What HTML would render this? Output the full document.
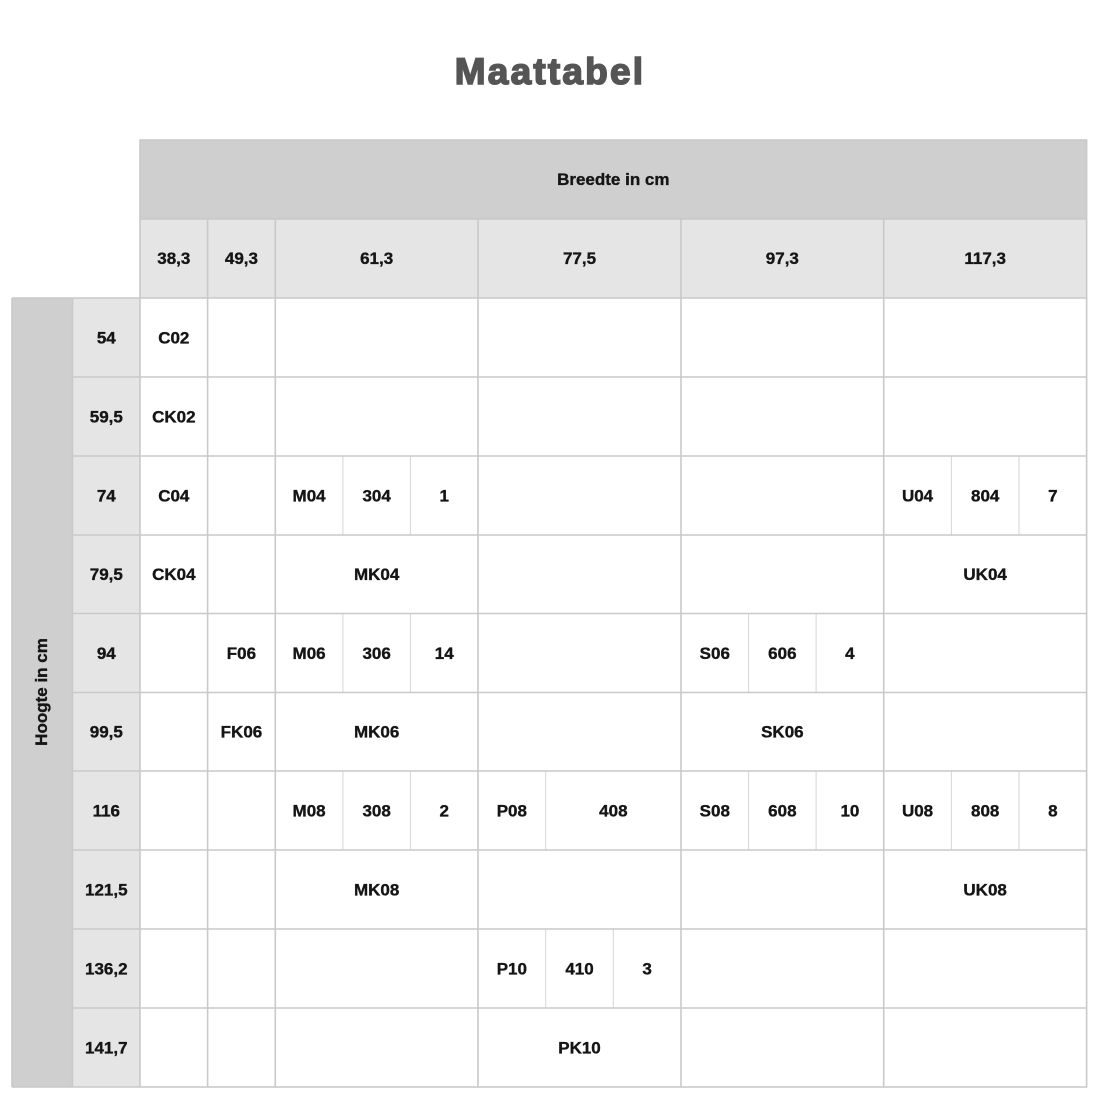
<!DOCTYPE html>
<html><head><meta charset="utf-8"><style>
html,body{margin:0;padding:0;background:#fff;width:1100px;height:1100px;overflow:hidden}
svg{display:block}
text{font-family:"Liberation Sans",sans-serif;font-weight:bold;font-size:17px;fill:#151515;stroke:#151515;stroke-width:0.35;text-anchor:middle}
</style></head><body>
<svg width="1100" height="1100" viewBox="0 0 1100 1100" xmlns="http://www.w3.org/2000/svg">
<text x="550" y="84" style="font-size:37px;fill:#555;stroke:#555;stroke-width:1.6;letter-spacing:2.2px">Maattabel</text>
<!-- backgrounds -->
<rect x="140" y="140" width="946.6" height="79" fill="#d0cfd0"/>
<rect x="140" y="219" width="946.6" height="79" fill="#e6e5e6"/>
<rect x="12" y="298" width="60.5" height="789" fill="#d0cfd0"/>
<rect x="72.5" y="298" width="67.5" height="789" fill="#e6e5e6"/>
<!-- light sub lines -->
<g stroke="#d6d6d6" stroke-width="1" fill="none">
<line x1="342.9" y1="456" x2="342.9" y2="535"/><line x1="410.4" y1="456" x2="410.4" y2="535"/>
<line x1="951.4" y1="456" x2="951.4" y2="535"/><line x1="1019" y1="456" x2="1019" y2="535"/>
<line x1="342.9" y1="613.5" x2="342.9" y2="692.5"/><line x1="410.4" y1="613.5" x2="410.4" y2="692.5"/>
<line x1="748.6" y1="613.5" x2="748.6" y2="692.5"/><line x1="816.1" y1="613.5" x2="816.1" y2="692.5"/>
<line x1="342.9" y1="771" x2="342.9" y2="850"/><line x1="410.4" y1="771" x2="410.4" y2="850"/>
<line x1="545.7" y1="771" x2="545.7" y2="850"/>
<line x1="748.6" y1="771" x2="748.6" y2="850"/><line x1="816.1" y1="771" x2="816.1" y2="850"/>
<line x1="951.4" y1="771" x2="951.4" y2="850"/><line x1="1019" y1="771" x2="1019" y2="850"/>
<line x1="545.7" y1="929" x2="545.7" y2="1008"/><line x1="613.3" y1="929" x2="613.3" y2="1008"/>
</g>
<!-- major lines -->
<g stroke="#c9c9c9" stroke-width="1.6" fill="none">
<rect x="140" y="140" width="946.6" height="947"/>
<line x1="140" y1="219" x2="1086.6" y2="219"/>
<line x1="12" y1="298" x2="1086.6" y2="298"/>
<line x1="72.5" y1="377" x2="1086.6" y2="377"/>
<line x1="72.5" y1="456" x2="1086.6" y2="456"/>
<line x1="72.5" y1="535" x2="1086.6" y2="535"/>
<line x1="72.5" y1="613.5" x2="1086.6" y2="613.5"/>
<line x1="72.5" y1="692.5" x2="1086.6" y2="692.5"/>
<line x1="72.5" y1="771" x2="1086.6" y2="771"/>
<line x1="72.5" y1="850" x2="1086.6" y2="850"/>
<line x1="72.5" y1="929" x2="1086.6" y2="929"/>
<line x1="72.5" y1="1008" x2="1086.6" y2="1008"/>
<line x1="12" y1="1087" x2="140" y2="1087"/>
<line x1="12" y1="298" x2="12" y2="1087"/>
<line x1="72.5" y1="298" x2="72.5" y2="1087"/>
<line x1="207.6" y1="219" x2="207.6" y2="1087"/>
<line x1="275.3" y1="219" x2="275.3" y2="1087"/>
<line x1="478" y1="219" x2="478" y2="1087"/>
<line x1="681" y1="219" x2="681" y2="1087"/>
<line x1="883.7" y1="219" x2="883.7" y2="1087"/>
</g>
<!-- headers -->
<text x="613.3" y="185">Breedte in cm</text>
<text x="173.8" y="264">38,3</text>
<text x="241.45" y="264">49,3</text>
<text x="376.65" y="264">61,3</text>
<text x="579.5" y="264">77,5</text>
<text x="782.35" y="264">97,3</text>
<text x="985.15" y="264">117,3</text>
<text transform="translate(47,692) rotate(-90)" x="0" y="0">Hoogte in cm</text>
<!-- row labels -->
<text x="106.3" y="343.5">54</text>
<text x="106.3" y="422.5">59,5</text>
<text x="106.3" y="501.5">74</text>
<text x="106.3" y="580">79,5</text>
<text x="106.3" y="659">94</text>
<text x="106.3" y="737.5">99,5</text>
<text x="106.3" y="816.5">116</text>
<text x="106.3" y="895.5">121,5</text>
<text x="106.3" y="974.5">136,2</text>
<text x="106.3" y="1053.5">141,7</text>
<!-- cells -->
<text x="173.8" y="343.5">C02</text>
<text x="173.8" y="422.5">CK02</text>
<text x="173.8" y="501.5">C04</text>
<text x="309.1" y="501.5">M04</text>
<text x="376.65" y="501.5">304</text>
<text x="444.2" y="501.5">1</text>
<text x="917.55" y="501.5">U04</text>
<text x="985.2" y="501.5">804</text>
<text x="1052.8" y="501.5">7</text>
<text x="173.8" y="580">CK04</text>
<text x="376.65" y="580">MK04</text>
<text x="985.15" y="580">UK04</text>
<text x="241.45" y="659">F06</text>
<text x="309.1" y="659">M06</text>
<text x="376.65" y="659">306</text>
<text x="444.2" y="659">14</text>
<text x="714.8" y="659">S06</text>
<text x="782.35" y="659">606</text>
<text x="849.9" y="659">4</text>
<text x="241.45" y="737.5">FK06</text>
<text x="376.65" y="737.5">MK06</text>
<text x="782.35" y="737.5">SK06</text>
<text x="309.1" y="816.5">M08</text>
<text x="376.65" y="816.5">308</text>
<text x="444.2" y="816.5">2</text>
<text x="511.85" y="816.5">P08</text>
<text x="613.35" y="816.5">408</text>
<text x="714.8" y="816.5">S08</text>
<text x="782.35" y="816.5">608</text>
<text x="849.9" y="816.5">10</text>
<text x="917.55" y="816.5">U08</text>
<text x="985.2" y="816.5">808</text>
<text x="1052.8" y="816.5">8</text>
<text x="376.65" y="895.5">MK08</text>
<text x="985.15" y="895.5">UK08</text>
<text x="511.85" y="974.5">P10</text>
<text x="579.5" y="974.5">410</text>
<text x="647.15" y="974.5">3</text>
<text x="579.5" y="1053.5">PK10</text>
</svg>
</body></html>
